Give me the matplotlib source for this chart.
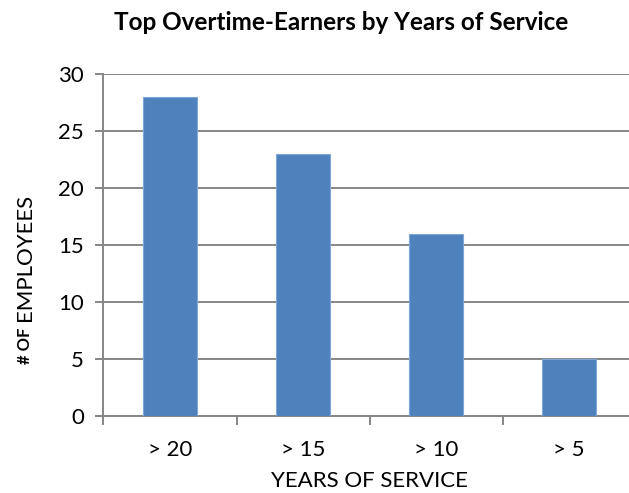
import numpy as np
import matplotlib.pyplot as plt

plt.rcParams.update(
    {
        "font.family": ["Lato", "DejaVu Sans"],
        "font.size": 16,
    }
)

# データ
categories = ["> 20", "> 15", "> 10", "> 5"]
employees = [28, 23, 16, 5]

bar_color = "#4F81BD"
grid_color = "#868686"

fig = plt.figure(figsize=(6.29, 4.93), dpi=100)
ax = fig.add_axes([0.1645, 0.156, 0.846, 0.694])

x = np.arange(len(categories))
ax.bar(x, employees, width=0.4, color=bar_color, edgecolor="#7FA6D6",
       linewidth=0.8, zorder=3)

ax.set_xlim(-0.5, len(categories) - 0.5)
ax.set_ylim(0, 30)
ax.set_yticks(np.arange(0, 31, 5))
ax.yaxis.grid(True, color=grid_color, linewidth=1.4, zorder=0)

# x軸: ラベルは中央、目盛り線は区切りに
ax.set_xticks(x)
ax.set_xticklabels(categories, fontsize=16)
ax.tick_params(axis="x", which="major", length=0, pad=17)
ax.set_xticks(np.arange(len(categories)) - 0.5, minor=True)
ax.tick_params(axis="x", which="minor", length=6.5, width=1.4,
               color=grid_color, direction="out")
ax.tick_params(axis="y", length=6, width=1.4, color=grid_color,
               direction="out", labelsize=16, pad=8)

for side in ["top", "right"]:
    ax.spines[side].set_visible(False)
for side in ["left", "bottom"]:
    ax.spines[side].set_color(grid_color)
    ax.spines[side].set_linewidth(1.4)

ax.set_xlabel("YEARS OF SERVICE", fontsize=16, labelpad=8)

# y軸ラベル（"# OF" は太字、その後に "EMPLOYEES" を続ける）
t1 = fig.text(25 / 629, (493 - 364) / 493, "# OF", rotation=90, ha="center",
              va="bottom", fontsize=12, fontweight="bold")
fig.canvas.draw()
ax.annotate("EMPLOYEES", xy=(0.5, 1.0), xycoords=t1, xytext=(0, 5),
            textcoords="offset points", rotation=90, ha="center",
            va="bottom", fontsize=16, annotation_clip=False)

fig.text(341 / 629, (493 - 22) / 493, "Top Overtime-Earners by Years of Service",
         ha="center", va="center", fontsize=17.5, fontweight="bold")

plt.savefig("out.png", dpi=100)
